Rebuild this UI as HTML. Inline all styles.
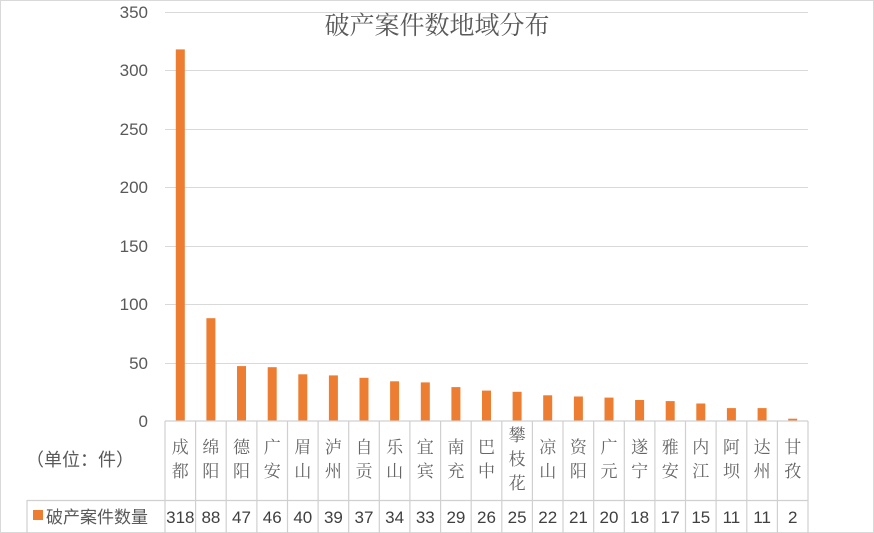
<!DOCTYPE html>
<html><head><meta charset="utf-8"><style>
body{margin:0;background:#fff}
svg{display:block}
</style></head><body>
<svg width="874" height="533" xmlns="http://www.w3.org/2000/svg">
<rect x="0.5" y="0.5" width="873" height="532" fill="#fff" stroke="#d9d9d9"/>
<g stroke="#d9d9d9" stroke-width="1">
<line x1="165" y1="12.5" x2="808" y2="12.5"/>
<line x1="165" y1="70.5" x2="808" y2="70.5"/>
<line x1="165" y1="129.5" x2="808" y2="129.5"/>
<line x1="165" y1="187.5" x2="808" y2="187.5"/>
<line x1="165" y1="246.5" x2="808" y2="246.5"/>
<line x1="165" y1="304.5" x2="808" y2="304.5"/>
<line x1="165" y1="363.5" x2="808" y2="363.5"/>
</g>
<g font-family="Liberation Sans, sans-serif" font-size="17" fill="#595959" text-anchor="end">
<text x="148" y="18">350</text><text x="148" y="76">300</text><text x="148" y="135">250</text>
<text x="148" y="193">200</text><text x="148" y="252">150</text><text x="148" y="310">100</text>
<text x="148" y="369">50</text><text x="148" y="427">0</text>
</g>
<text x="437" y="34" text-anchor="middle" font-family="'Noto Serif CJK SC', serif" font-size="25" fill="#595959">破产案件数地域分布</text>
<g fill="#ed7d31">
<rect x="175.8" y="49.4" width="9" height="371.6"/>
<rect x="206.4" y="318.2" width="9" height="102.8"/>
<rect x="237" y="366.1" width="9" height="54.9"/>
<rect x="267.7" y="367.2" width="9" height="53.8"/>
<rect x="298.3" y="374.3" width="9" height="46.7"/>
<rect x="328.9" y="375.4" width="9" height="45.6"/>
<rect x="359.5" y="377.8" width="9" height="43.2"/>
<rect x="390.1" y="381.3" width="9" height="39.7"/>
<rect x="420.8" y="382.4" width="9" height="38.6"/>
<rect x="451.4" y="387.1" width="9" height="33.9"/>
<rect x="482" y="390.6" width="9" height="30.4"/>
<rect x="512.6" y="391.8" width="9" height="29.2"/>
<rect x="543.2" y="395.3" width="9" height="25.7"/>
<rect x="573.9" y="396.5" width="9" height="24.5"/>
<rect x="604.5" y="397.6" width="9" height="23.4"/>
<rect x="635.1" y="400" width="9" height="21"/>
<rect x="665.7" y="401.1" width="9" height="19.9"/>
<rect x="696.3" y="403.5" width="9" height="17.5"/>
<rect x="726.9" y="408.1" width="9" height="12.9"/>
<rect x="757.6" y="408.1" width="9" height="12.9"/>
<rect x="788.2" y="418.7" width="9" height="2.3"/>
</g>
<g stroke="#d0d0d0" stroke-width="1.2">
<line x1="165" y1="421" x2="808" y2="421"/>
<line x1="27" y1="500.5" x2="808" y2="500.5"/>
<line x1="27" y1="500" x2="27" y2="533"/>
<line x1="165" y1="421" x2="165" y2="533"/><line x1="195.6" y1="421" x2="195.6" y2="533"/>
<line x1="226.2" y1="421" x2="226.2" y2="533"/><line x1="256.9" y1="421" x2="256.9" y2="533"/>
<line x1="287.5" y1="421" x2="287.5" y2="533"/><line x1="318.1" y1="421" x2="318.1" y2="533"/>
<line x1="348.7" y1="421" x2="348.7" y2="533"/><line x1="379.3" y1="421" x2="379.3" y2="533"/>
<line x1="409.9" y1="421" x2="409.9" y2="533"/><line x1="440.6" y1="421" x2="440.6" y2="533"/>
<line x1="471.2" y1="421" x2="471.2" y2="533"/><line x1="501.8" y1="421" x2="501.8" y2="533"/>
<line x1="532.4" y1="421" x2="532.4" y2="533"/><line x1="563" y1="421" x2="563" y2="533"/>
<line x1="593.7" y1="421" x2="593.7" y2="533"/><line x1="624.3" y1="421" x2="624.3" y2="533"/>
<line x1="654.9" y1="421" x2="654.9" y2="533"/><line x1="685.5" y1="421" x2="685.5" y2="533"/>
<line x1="716.1" y1="421" x2="716.1" y2="533"/><line x1="746.8" y1="421" x2="746.8" y2="533"/>
<line x1="777.4" y1="421" x2="777.4" y2="533"/><line x1="808" y1="421" x2="808" y2="533"/>
</g>
<g font-family="'Noto Serif CJK SC', serif" font-size="17" fill="#666" text-anchor="middle">
<text x="180.3" y="453">成</text><text x="180.3" y="477">都</text>
<text x="210.9" y="453">绵</text><text x="210.9" y="477">阳</text>
<text x="241.5" y="453">德</text><text x="241.5" y="477">阳</text>
<text x="272.2" y="453">广</text><text x="272.2" y="477">安</text>
<text x="302.8" y="453">眉</text><text x="302.8" y="477">山</text>
<text x="333.4" y="453">泸</text><text x="333.4" y="477">州</text>
<text x="364" y="453">自</text><text x="364" y="477">贡</text>
<text x="394.6" y="453">乐</text><text x="394.6" y="477">山</text>
<text x="425.3" y="453">宜</text><text x="425.3" y="477">宾</text>
<text x="455.9" y="453">南</text><text x="455.9" y="477">充</text>
<text x="486.5" y="453">巴</text><text x="486.5" y="477">中</text>
<text x="517.1" y="441">攀</text><text x="517.1" y="465">枝</text><text x="517.1" y="489">花</text>
<text x="547.7" y="453">凉</text><text x="547.7" y="477">山</text>
<text x="578.4" y="453">资</text><text x="578.4" y="477">阳</text>
<text x="609" y="453">广</text><text x="609" y="477">元</text>
<text x="639.6" y="453">遂</text><text x="639.6" y="477">宁</text>
<text x="670.2" y="453">雅</text><text x="670.2" y="477">安</text>
<text x="700.8" y="453">内</text><text x="700.8" y="477">江</text>
<text x="731.4" y="453">阿</text><text x="731.4" y="477">坝</text>
<text x="762.1" y="453">达</text><text x="762.1" y="477">州</text>
<text x="792.7" y="453">甘</text><text x="792.7" y="477">孜</text>
</g>
<g font-family="Liberation Sans, sans-serif" font-size="17" fill="#404040" text-anchor="middle">
<text x="180.3" y="523">318</text><text x="210.9" y="523">88</text><text x="241.5" y="523">47</text>
<text x="272.2" y="523">46</text><text x="302.8" y="523">40</text><text x="333.4" y="523">39</text>
<text x="364" y="523">37</text><text x="394.6" y="523">34</text><text x="425.3" y="523">33</text>
<text x="455.9" y="523">29</text><text x="486.5" y="523">26</text><text x="517.1" y="523">25</text>
<text x="547.7" y="523">22</text><text x="578.4" y="523">21</text><text x="609" y="523">20</text>
<text x="639.6" y="523">18</text><text x="670.2" y="523">17</text><text x="700.8" y="523">15</text>
<text x="731.4" y="523">11</text><text x="762.1" y="523">11</text><text x="792.7" y="523">2</text>
</g>
<text x="80" y="466" text-anchor="middle" font-family="'Noto Sans CJK SC', sans-serif" font-size="18" fill="#595959">（单位：件）</text>
<rect x="33" y="510" width="10" height="10" fill="#ed7d31"/>
<text x="46" y="523" font-family="'Noto Sans CJK SC', sans-serif" font-size="17" fill="#595959">破产案件数量</text>
</svg>
</body></html>
